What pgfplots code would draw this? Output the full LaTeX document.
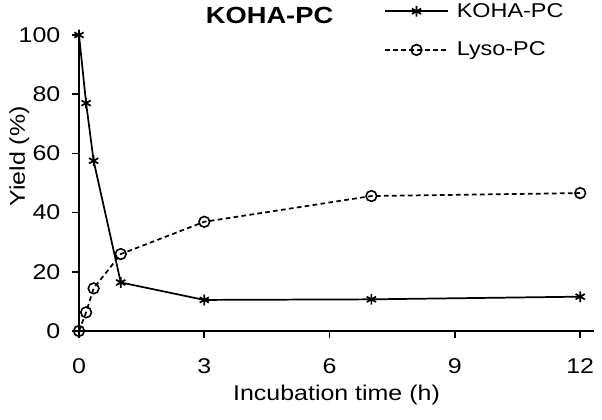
\documentclass[border=0pt]{standalone}
\usepackage{fontspec}
\setmainfont{Liberation Sans}[FakeStretch=1.17]
\usepackage{pgfplots}
\pgfplotsset{compat=1.18}
\begin{document}
\begin{tikzpicture}[font=\fontsize{16}{19}\selectfont]
\path[use as bounding box] (-59.25pt,-66pt) rectangle (392.25pt,248.25pt);
\begin{axis}[
  scale only axis, width=386.25pt, height=222pt,
  at={(0pt,0pt)}, anchor=south west,
  xmin=0, xmax=12.33, ymin=0, ymax=100,
  axis lines*=left,
  clip=false,
  xtick={0,3,6,9,12}, ytick={0,20,40,60,80,100},
  tick align=outside, major tick length=5.5pt,
  tick style={line width=1.3pt, black},
  axis line style={line width=1.3pt},
  /pgf/number format/assume math mode=true,
  xticklabel={\pgfmathprintnumber{\tick}},
  yticklabel={\pgfmathprintnumber{\tick}},
  tick label style={font=\fontsize{16}{19}\selectfont},
  label style={font=\fontsize{16}{19}\selectfont},
  yticklabel style={xshift=-5pt},
  xticklabel style={yshift=-11.5pt},
  xlabel={Incubation time (h)}, ylabel={Yield (\%)},
  ylabel style={at={(axis description cs:-0.116,0.59)}, anchor=center},
  xlabel style={at={(axis description cs:0.5,-0.216)}, anchor=center},
  legend style={draw=none, fill=none, at={(rel axis cs:0.592,1.117)}, anchor=north west, row sep=13pt, inner sep=0pt, font=\fontsize{15}{18}\selectfont},
  legend cell align=left,
  legend image code/.code={\draw[mark repeat=2,mark phase=2,#1] plot coordinates {(0cm,0cm) (0.83cm,0cm) (1.66cm,0cm)}; \path (1.66cm+4pt,0pt);},
]
\addplot[black, line width=1.3pt, mark=asterisk, mark size=4pt, mark options={solid, line width=1.3pt}]
  coordinates {(0,100) (0.17,77) (0.35,57.5) (1,16.4) (3,10.5) (7,10.7) (12,11.6)};
\addlegendentry{KOHA-PC}
\addplot[black, line width=1.3pt, dash pattern=on 3.5pt off 2.5pt, mark=o, mark size=4pt, mark options={solid, line width=1.2pt}]
  coordinates {(0,0) (0.17,6.3) (0.35,14.4) (1,26) (3,36.9) (7,45.6) (12,46.6)};
\addlegendentry{Lyso-PC}
\node[font=\bfseries\fontsize{17.5}{20}\selectfont] at (rel axis cs:0.37,1.066) {KOHA-PC};
\end{axis}
\end{tikzpicture}
\end{document}
